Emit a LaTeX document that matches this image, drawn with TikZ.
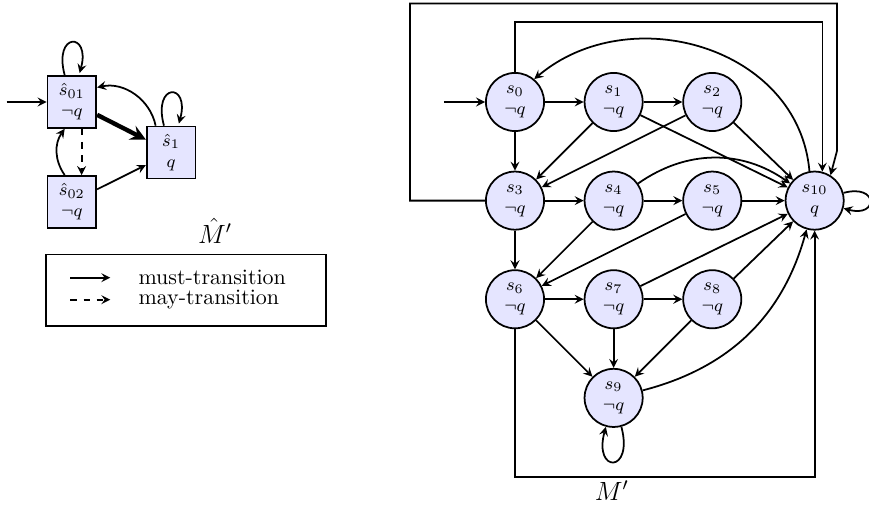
\documentclass[tikz,border=0pt]{standalone}
\usepackage{amsmath,amssymb}
\usepackage{tikz}
\tikzset{>=stealth}
\usetikzlibrary{positioning, arrows, calc}

\begin{document}
\begin{tikzpicture}[thick,
    kstate/.style={draw, circle, fill=blue!10, minimum size=0.93cm, inner sep=0pt, align=center, font=\footnotesize},
    abox/.style={draw, rectangle, fill=blue!10, minimum width=0.78cm, minimum height=0.83cm, inner sep=0pt, align=center, font=\footnotesize},
    node distance=0.62cm and 0.62cm]
    \useasboundingbox (-8.24,1.632) rectangle (5.664,-6.56);

    % abstract model
    \node[abox] (hs01) at (-7.09,0) {$\hat{s}_{01}$\\$\neg q$};
    \node[abox, below right=-0.05cm and 0.78cm of hs01] (hs1) {$\hat{s}_1$\\$q$};
    \node[abox, below=0.74cm of hs01] (hs02) {$\hat{s}_{02}$\\$\neg q$};
    \coordinate[left=0.64cm of hs01.west] (hinit);

    \draw[->] (hinit) -- (hs01);
    \draw[->] (hs01) edge[loop above] (hs01);
    \draw[->] (hs1) edge[loop above] (hs1);
    \draw[->] (hs1.120) to[bend right=45] (hs01.30);
    \draw[->, line width=2pt] (hs01) -- (hs1);
    \draw[->, dashed] (hs01.290) -- (hs02.70);
    \draw[->] (hs02.105) to[bend left=35] (hs01.255);
    \draw[->] (hs02) -- (hs1);

    \node[inner sep=1pt] (mhat) at (-4.8,-2.06) {\large $\hat{M}'$};

    % legend
    \node[draw, inner sep=0pt, minimum width=4.48cm, minimum height=1.14cm, below right=0.4cm and -0.02cm of hs02.south west] (legend) {};
    \coordinate (musta) at ($(legend.north west)+(0.4,-0.384)$);
    \coordinate (mustb) at ($(musta)+(0.64,0)$);
    \coordinate (maya) at ($(legend.north west)+(0.4,-0.736)$);
    \coordinate (mayb) at ($(maya)+(0.64,0)$);
    \draw[->] (musta) -- (mustb);
    \draw[->, dashed] (maya) -- (mayb);
    \node[right=0.32cm of mustb] (musttext) {must-transition};
    \node[right=0.32cm of mayb] (maytext) {may-transition};

    % concrete model
    \node[kstate] (s0) at (0,0) {$s_0$\\$\neg q$};
    \node[kstate, right=of s0] (s1) {$s_1$\\$\neg q$};
    \node[kstate, right=of s1] (s2) {$s_2$\\$\neg q$};
    \node[kstate, below=of s0] (s3) {$s_3$\\$\neg q$};
    \node[kstate, right=of s3] (s4) {$s_4$\\$\neg q$};
    \node[kstate, right=of s4] (s5) {$s_5$\\$\neg q$};
    \node[kstate, right=0.68cm of s5] (s10) {$s_{10}$\\$q$};
    \node[kstate, below=of s3] (s6) {$s_6$\\$\neg q$};
    \node[kstate, right=of s6] (s7) {$s_7$\\$\neg q$};
    \node[kstate, right=of s7] (s8) {$s_8$\\$\neg q$};
    \node[kstate, below=of s7] (s9) {$s_9$\\$\neg q$};
    \coordinate[left=0.66cm of s0.west] (init);

    \draw[->] (init) -- (s0);
    \draw[->] (s0) -- (s1);
    \draw[->] (s1) -- (s2);
    \draw[->] (s0) -- (s3);
    \draw[->] (s1) -- (s3);
    \draw[->] (s2) -- (s3);
    \draw[->] (s1) -- (s10);
    \draw[->] (s2) -- (s10);
    \draw[->] (s3) -- (s4);
    \draw[->] (s4) -- (s5);
    \draw[->] (s5) -- (s10);
    \draw[->] (s4) to[bend left=35] (s10);
    \draw[->] (s3) -- (s6);
    \draw[->] (s4) -- (s6);
    \draw[->] (s5) -- (s6);
    \draw[->] (s6) -- (s7);
    \draw[->] (s7) -- (s8);
    \draw[->] (s7) -- (s10);
    \draw[->] (s8) -- (s10);
    \draw[->] (s6) -- (s9);
    \draw[->] (s7) -- (s9);
    \draw[->] (s8) -- (s9);
    \draw[->] (s9) to[bend right=30] (s10);
    \draw[->] (s10.100) to[out=95, in=40, looseness=1.1] (s0.50);
    \draw[->] (s10) edge[loop right, looseness=6] (s10);
    \draw[->] (s9) edge[out=-75, in=-105, looseness=8] (s9);

    % long way round
    \draw[->] (s0.north) -- ++(0,0.8) -| (s10.75);
    \draw[->] (s3.west) -- ++(-1.2,0) -- ++(0,3.152) -- ++(6.832,0) -- ++(0,-2.352) -- (s10.58);
    \draw[->] (s6.south) -- ++(0,-2.37) -| (s10.south);

    \node (mprime) at (1.55,-6.22) {\large $M'$};
\end{tikzpicture}
\end{document}
